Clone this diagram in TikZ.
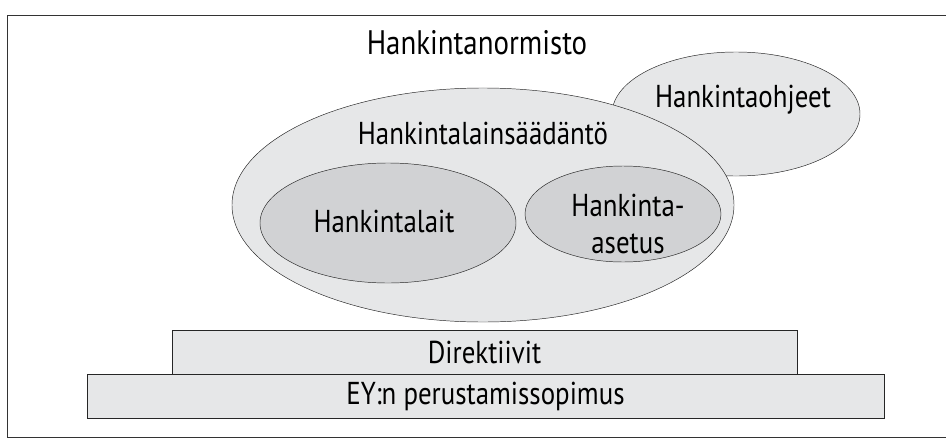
\documentclass[tikz,border=0pt]{standalone}
\usepackage{fontspec}
\setmainfont[FakeStretch=0.85]{PT Sans}
\usetikzlibrary{shapes.geometric}
\definecolor{lightfill}{HTML}{E6E7E8}
\definecolor{darkfill}{HTML}{D1D2D4}
\begin{document}
\begin{tikzpicture}[x=0.03cm,y=-0.03cm]
      \useasboundingbox (0,0) rectangle (946,445);
      \draw[black!80] (7,15) rectangle (948,437);
      \node (title) at (477,43) {\fontsize{29}{32}\selectfont Hankintanormisto};
      \begin{scope}[every node/.style={ellipse,draw=black!85,fill=lightfill,inner sep=0pt,
          font=\fontsize{27}{32}\selectfont,align=center}]
        \node[minimum width=7.44cm,minimum height=3.72cm] (ohjeet) at (736,114) {};
        \node[minimum width=15.06cm,minimum height=7.02cm] (laki) at (483,205) {};
        \node[fill=darkfill,minimum width=7.68cm,minimum height=3.6cm] (lait) at (388,223) {};
        \node[fill=darkfill,minimum width=5.88cm,minimum height=2.88cm] (asetus) at (623,214) {};
      \end{scope}
      \begin{scope}[every node/.style={font=\fontsize{27}{32}\selectfont,align=center}]
        \node (ohjeettxt) at (743,100) {Hankintaohjeet};
        \node (lakitxt) at (483,133) {Hankintalainsäädäntö};
        \node (laittxt) at (384,221) {Hankintalait};
        \node (asetustxt) at (628,224) {Hankinta-\\asetus};
      \end{scope}
      \begin{scope}[every node/.style={rectangle,draw=black!85,fill=lightfill,
          font=\fontsize{27}{32}\selectfont}]
        \node[minimum width=23.91cm,minimum height=1.32cm] (ey) at (485.5,396) {EY:n perustamissopimus};
        \node[minimum width=18.75cm,minimum height=1.32cm] (dir) at (484.5,352) {Direktiivit};
      \end{scope}
    \end{tikzpicture}
\end{document}
